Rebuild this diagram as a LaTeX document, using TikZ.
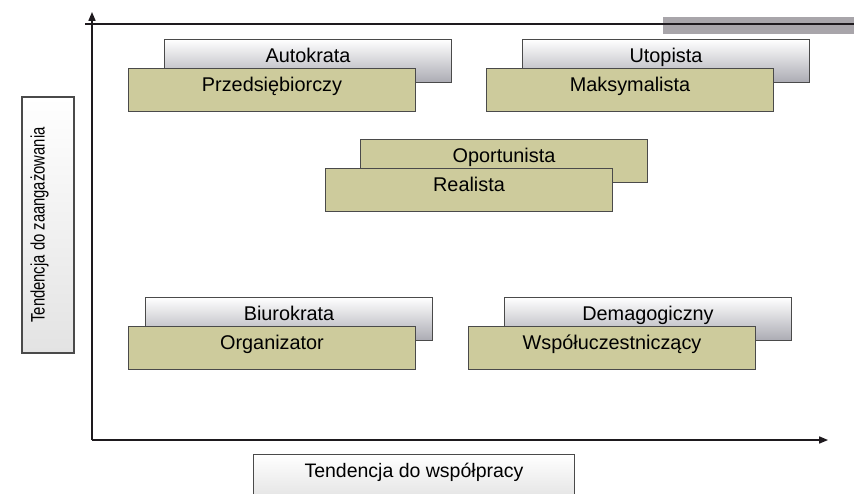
\documentclass[tikz,border=0pt]{standalone}
\usepackage{fontspec}
\setmainfont{Liberation Sans}
\usetikzlibrary{arrows.meta,positioning}
\definecolor{olive}{HTML}{CDCB9C}
\definecolor{boxgray}{HTML}{ABABB3}
\definecolor{boxedge}{HTML}{4A4A4A}
\definecolor{bargray}{HTML}{A8A5AA}
\definecolor{axisline}{HTML}{1E1A1E}

\tikzset{
  card/.style={draw=boxedge, line width=0.6pt, anchor=north west, inner sep=0pt,
    minimum width=5.74cm, minimum height=0.86cm, text height=0.45cm, text depth=0.41cm,
    font=\fontsize{11.3}{13}\selectfont},
  labelbox/.style={draw=boxedge, line width=0.6pt, inner sep=0pt, top color=white, bottom color=gray!22,
    text height=0.45cm, font=\fontsize{11.1}{13}\selectfont},
  axis/.style={draw=axisline, line width=0.7pt, -{Triangle[length=5pt,width=4pt]}}
}

\begin{document}
\begin{tikzpicture}[x=0.02cm, y=-0.02cm]
      \useasboundingbox (0,0) rectangle (854,493);

      % top rule
      \fill[bargray] (663,17) rectangle (854,34);
      \coordinate (ruleL) at (85,24);
      \coordinate (ruleR) at (854,24);
      \draw[axisline, line width=1.1pt] (ruleL) -- (ruleR);

      % axes
      \coordinate (origin) at (92,440);
      \coordinate (ytip) at (92,12);
      \coordinate (xtip) at (828,440);
      \draw[axis] (origin) -- (ytip);
      \draw[axis] (origin) -- (xtip);

      % style pairs
      \foreach \bname/\btext/\bx/\by/\btop/\bbot/\fname/\ftext/\fx/\fy in {
        autokrata/Autokrata/164/39/white/boxgray/przedsiebiorczy/Przedsiębiorczy/128/68,
        utopista/Utopista/522/39/white/boxgray/maksymalista/Maksymalista/486/68,
        oportunista/Oportunista/360/139/olive/olive/realista/Realista/325/168,
        biurokrata/Biurokrata/145/297/white/boxgray/organizator/Organizator/128/326,
        demagogiczny/Demagogiczny/504/297/white/boxgray/wspoluczestniczacy/Współuczestniczący/468/326} {
        \node[card, top color=\btop, bottom color=\bbot] (\bname) at (\bx,\by) {\btext};
        \node[card, fill=olive] (\fname) at (\fx,\fy) {\ftext};
      }

      % axis labels
      \node[labelbox, rotate=90, minimum width=5.12cm, minimum height=1.04cm, text depth=0.59cm]
        (engagement) at (48,225) {\scalebox{0.76}[1]{Tendencja do zaangażowania}};
      \node[labelbox, anchor=north west, minimum width=6.42cm, minimum height=0.9cm, text depth=0.45cm]
        (cooperation) at (253,454) {Tendencja do współpracy};
    \end{tikzpicture}
\end{document}
